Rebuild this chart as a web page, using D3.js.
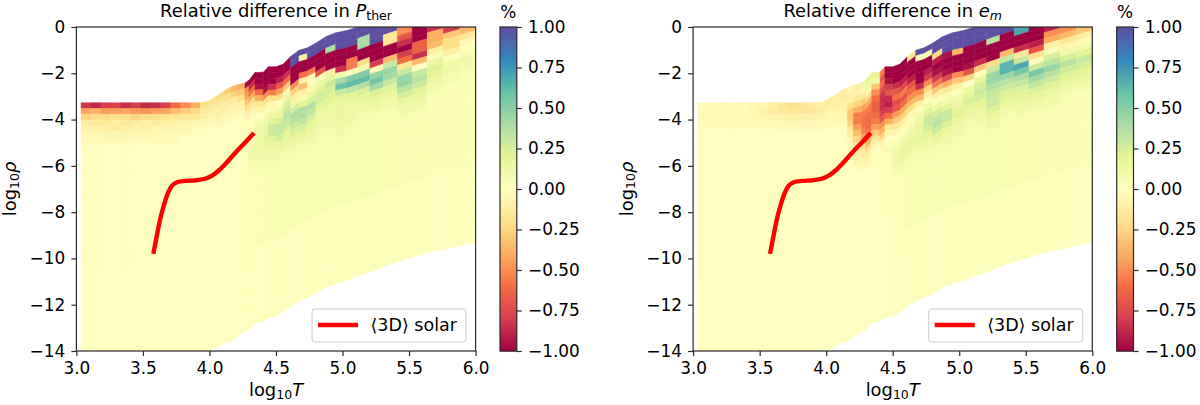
<!DOCTYPE html>
<html><head><meta charset="utf-8">
<script src="https://cdn.jsdelivr.net/npm/d3@7"></script>
<style>
html,body{margin:0;padding:0;background:#fff}
svg{display:block}
text{font-family:"DejaVu Sans",sans-serif;fill:#000}
</style></head><body>
<svg id="chart" width="1200" height="405"></svg>
<script>
// column edges in log10 T
const tEdges=[3.035,3.11,3.185,3.26,3.335,3.41,3.485,3.56,3.635,3.71,3.785,3.86,3.929,3.992,4.054,4.117,4.16,4.204,4.267,4.297,4.342,4.405,4.442,4.5,4.555,4.61,4.673,4.735,4.798,4.873,4.948,5.031,5.114,5.206,5.306,5.412,5.524,5.637,5.757,5.882,6.0];
// upper and lower limit of the table at each column edge, log10 rho
const topEdge=[-3.27,-3.27,-3.27,-3.27,-3.27,-3.27,-3.27,-3.27,-3.27,-3.27,-3.27,-3.27,-3.27,-3.2,-2.98,-2.72,-2.6,-2.5,-2.42,-2.3,-1.97,-1.95,-1.72,-1.72,-1.6,-1.28,-1.0,-0.9,-0.7,-0.42,-0.25,-0.15,0.0,0.2,0.4,0.6,0.8,1.0,1.2,1.4,1.6];
const bottomEdge=[-14.6,-14.6,-14.6,-14.6,-14.6,-14.6,-14.6,-14.6,-14.6,-14.6,-14.6,-14.6,-14.4,-14,-13.85,-13.65,-13.6,-13.4,-13.15,-13.1,-12.8,-12.7,-12.55,-12.5,-12.3,-12.1,-11.85,-11.7,-11.5,-11.25,-11.1,-10.95,-10.75,-10.6,-10.35,-10.15,-9.95,-9.75,-9.6,-9.45,-9.3];
const rowStep=0.25;
// percent difference by column, rows running down from the upper limit
const pRows=[
[-.82,-.42,-.25,-.12,-.08,-.05,-.03,-.02],
[-.88,-.38,-.2,-.14,-.08,-.04,-.03],
[-.8,-.45,-.22,-.14,-.1,-.05,-.03],
[-.78,-.44,-.18,-.1,-.12,-.05,-.03],
[-.86,-.42,-.2,-.15,-.1,-.06,-.03],
[-.8,-.46,-.24,-.12,-.08,-.05,-.02],
[-.88,-.48,-.2,-.1,-.1,-.05,-.03],
[-.85,-.44,-.2,-.12,-.06,-.04,-.02],
[-.78,-.42,-.18,-.1,-.06,-.03,-.02],
[-.62,-.34,-.16,-.08,-.05,-.03,-.02],
[-.5,-.28,-.14,-.08,-.05,-.02],
[-.4,-.22,-.14,-.06,-.03,-.02],
[-.2,-.14,-.1,-.05,-.02],
[-.18,-.12,-.08,-.05,-.02],
[-.22,-.15,-.1,-.1,-.05,-.03],
[-.28,-.2,-.12,-.1,-.05,-.03],
[-.35,-.25,-.12,-.08,-.05,-.02],
[-.4,-.3,-.2,-.1,-.05,-.02],
[-.95,-.5,-.45,-.3,-.2,-.1,-.05,0,.02,.02,.02,.04,.05],
[-1,-.85,-.6,-.4,-.2,-.1,-.05,0,.02,.04,.06,.08,.1,.12,.1,.08],
[-1,-1,-.95,-.6,-.4,-.15,-.08,0,.05,.1,.1,.12,.15,.14,.1,.1,.08,.06],
[-1,-1,-1,-.95,-.5,-.2,-.08,.02,.08,.14,.16,.2,.2,.15,.12,.1,.08,.06],
[-1,-1,-1,-.85,-.55,-.2,-.05,.05,.14,.22,.28,.28,.22,.16,.12,.1,.08],
[-1,-1,-.9,-.7,-.45,-.2,0,.08,.14,.24,.32,.3,.26,.18,.14,.1,.08],
[-1,-1,-.85,-.6,-.3,-.05,.12,.24,.3,.36,.32,.28,.2,.16,.14,.1,.08],
[1,1,-1,-1,-1,-.5,-.25,-.1,.12,.26,.38,.38,.3,.24,.18,.14,.1,.08],
[1,-.1,-1,-1,-.6,-.1,-.35,-.1,.06,.2,.38,.38,.34,.26,.2,.14,.1,.08],
[1,1,-1,-1,-.55,-.05,.02,.06,.14,.26,.38,.34,.26,.2,.14,.12,.1,.08],
[1,1,-1,-1,-1,-.7,.06,.14,.2,.26,.26,.2,.14,.12,.12,.1,.08],
[1,1,.4,-1,-1,-1,-.1,.18,.3,.26,.22,.2,.16,.14,.12,.1,.08],
[1,1,1,-1,-1,-1,-.85,.1,.42,.58,.3,.18,.14,.16,.16,.14,.12,.1,.08],
[1,1,1,-1,-1,-.55,-.55,.05,.52,.62,.34,.2,.16,.14,.12,.14,.1,.08],
[1,1,.4,.4,-1,-1,-.2,.1,.52,.62,.38,.24,.18,.14,.12,.1,.08],
[1,1,1,-1,-1,-1,-.8,-.05,.46,.56,.42,.24,.18,.14,.1,.08],
[1,-.15,-.15,-1,-1,-.35,.3,.45,.42,.32,.22,.16,.12,.1],
[-.5,-.7,-.85,-1,-.8,-.6,-.15,.3,.46,.46,.36,.26,.16,.12,.1],
[-1,-1,-.65,-.65,-.85,-.35,0,.3,.36,.3,.22,.16,.12,.1],
[-.85,-.4,-.4,-.35,-.1,.05,.16,.22,.2,.14,.1,.08],
[-.8,-.3,-.2,-.2,-.1,0,.1,.12,.1,.08],
[-.35,-.15,-.05,0,.05,.1,.1,.06,.05]
];
const eRows=[
[-.03,-.02,-.04,-.02,-.01],
[-.02,-.03,-.02,-.03,-.01],
[-.03,-.04,-.03,-.02,-.01],
[-.02,-.03,-.05,-.03,-.02],
[-.03,-.02,-.03,-.02,-.01],
[-.04,-.05,-.04,-.03,-.01],
[-.06,-.08,-.05,-.03,-.02],
[-.1,-.12,-.06,-.03,-.02],
[-.14,-.14,-.08,-.04,-.02],
[-.18,-.14,-.08,-.05,-.02],
[-.16,-.16,-.1,-.05,-.03],
[-.12,-.14,-.08,-.05,-.03],
[-.1,-.12,-.08,-.05,-.03],
[-.12,-.1,-.05,-.03,-.02],
[-.1,-.12,-.08,-.05,-.05,-.02],
[-.1,-.12,-.1,-.08,-.06,-.03],
[-.03,-.08,-.1,-.2,-.3,-.3,-.25,-.15,-.1,-.05,-.03],
[-.1,-.1,-.15,-.25,-.4,-.55,-.55,-.45,-.35,-.25,-.18,-.12,-.1,-.06,-.03],
[.12,.05,-.15,-.3,-.45,-.55,-.6,-.6,-.55,-.45,-.3,-.2,-.12,-.08,-.04],
[.2,.15,-.05,-.2,-.4,-.55,-.6,-.62,-.62,-.58,-.5,-.35,-.2,-.1,-.05,-.02],
[.2,.12,-.3,-.5,-.6,-.65,-.65,-.6,-.55,-.45,-.3,-.15,-.05,0],
[-.55,-.7,-.6,-.75,-.85,-.85,-.85,-.8,-.7,-.5,-.4,-.25,-.1,-.03,.02],
[-1,-1,-.95,-.8,-.7,-.85,-.9,-.8,-.6,-.4,-.15,-.05,0,.03,.05],
[-1,-1,-1,-.85,-.7,-.6,-.75,-.7,-.45,-.3,-.15,-.05,0,.04,.1,.12,.12,.1,.08],
[-1,-1,-1,-.9,-.75,-.55,-.7,-.6,-.4,-.25,-.1,-.02,.02,.08,.14,.18,.16,.12,.08],
[-.15,-1,-1,-1,-.9,-.7,-.6,-.5,-.35,-.2,-.05,.02,.06,.12,.16,.18,.14,.1,.08],
[1,.05,-1,-1,-1,-1,-.85,-.5,-.35,-.1,.02,.1,.14,.16,.16,.18,.14,.1,.08],
[1,.05,-1,-1,-.9,-.8,-.5,-.25,-.1,.03,.12,.2,.3,.3,.24,.2,.14,.1,.08],
[1,1,-.2,-.9,-1,-.95,-.8,-.55,-.3,-.1,.03,.12,.26,.32,.36,.28,.2,.14,.1,.08],
[1,1,1,-.95,-1,-1,-.95,-.75,-.4,-.15,.05,.1,.2,.3,.3,.24,.18,.12,.1,.08],
[1,1,1,-.35,-1,-1,-1,-.5,-.3,-.1,.05,.1,.14,.18,.2,.14,.12,.1,.08],
[1,1,1,-1,-1,-1,-.95,-.7,-.25,0,.12,.2,.24,.2,.16,.12,.1,.08],
[1,1,1,-1,-1,-1,-.85,-.3,.02,.18,.26,.28,.26,.2,.16,.12,.1],
[1,1,.35,-1,-1,-1,-.2,.3,.45,.45,.38,.32,.3,.28,.22,.16,.12,.1],
[1,-1,-1,-1,-.35,.3,.65,.65,.45,.36,.28,.22,.2,.14,.1],
[.7,-1,-1,-.85,-.15,.3,.7,.55,.38,.32,.24,.2,.16,.12,.1],
[-1,-1,-.9,-.7,-.2,.05,.3,.55,.42,.32,.24,.18,.14,.1],
[-.9,-.5,-.4,-.1,.05,.25,.35,.45,.36,.28,.22,.16,.12,.1],
[-.5,-.35,-.15,-.05,.1,.25,.36,.28,.22,.16,.12,.08],
[-.3,-.1,-.02,.1,.2,.3,.26,.2,.16,.12,.08]
];
// value under the listed rows, then near the lower limit
const pDeep=[-.005,-.01,-.005,0,-.01,-.005,0,-.005,-.005,0,0,-.005,0,0,0,.005,.01,.015,.02,.03,.04,.05,.06,.06,.07,.07,.07,.07,.07,.07,.07,.07,.07,.07,.06,.06,.06,.05,.05,.04];
const pFloor=[0,-.005,0,0,-.005,0,0,0,0,0,0,0,0,0,.005,.005,.01,.01,.01,.01,.01,.015,.015,.02,.02,.02,.02,.02,.02,.02,.025,.025,.03,.03,.03,.03,.025,.02,.02,.02];
const eDeep=[-.005,0,-.005,-.005,0,-.005,-.005,-.005,0,-.005,-.005,0,-.005,0,0,-.005,0,0,0,0,.01,.01,.02,.03,.05,.06,.07,.07,.07,.07,.07,.07,.07,.07,.06,.06,.06,.05,.05,.04];
const eFloor=[0,0,0,0,0,0,0,0,0,0,0,0,0,0,0,0,0,0,.005,.005,.01,.01,.015,.02,.02,.02,.02,.02,.02,.02,.025,.025,.03,.03,.03,.03,.025,.02,.02,.02];
const floorFromRow=30;
// mean 3D solar stratification
const solarT=[3.578,3.6,3.63,3.66,3.69,3.72,3.76,3.82,3.9,3.97,4.02,4.07,4.13,4.2,4.27,4.335];
const solarRho=[-9.8,-9.15,-8.3,-7.65,-7.15,-6.85,-6.7,-6.65,-6.62,-6.55,-6.42,-6.2,-5.85,-5.4,-4.98,-4.58];
// axis ticks
const xTicks=[3,3.5,4,4.5,5,5.5,6];
const yTicks=[0,-2,-4,-6,-8,-10,-12,-14];
const barTicks=[1,.75,.5,.25,0,-.25,-.5,-.75,-1];
const spectral=["#9e0142","#d53e4f","#f46d43","#fdae61","#fee08b","#ffffbf","#e6f598","#abdda4","#66c2a5","#3288bd","#5e4fa2"];

const color=d3.scaleLinear().domain(d3.range(11).map(i=>-1+i*.2)).range(spectral).clamp(true);
const svg=d3.select("#chart");
const fs=16.9,big=17.9,sub=12.5,ink="#2a2a2a";
const minus=s=>s.replace("-","\u2212");

function drawPanel(o){
  const g=svg.append("g");
  const x=d3.scaleLinear().domain([3,6]).range([o.left,o.left+399.2]);
  const y=d3.scaleLinear().domain([-14,0]).range([351,27]);
  const id="clip"+Math.round(o.left);
  g.append("clipPath").attr("id",id).append("rect").attr("x",x(3)).attr("y",y(0)).attr("width",x(6)-x(3)).attr("height",y(-14)-y(0));
  const cells=[];
  o.rows.forEach((list,c)=>{
    const maxDepth=d3.max([topEdge[c]-bottomEdge[c],topEdge[c+1]-bottomEdge[c+1]]);
    const n=Math.ceil(maxDepth/rowStep);
    const mid=(topEdge[c]+topEdge[c+1])/2;
    const skip=Math.round(Math.max(0,mid)/rowStep);
    for(let k=0;k<n;k++){
      const idx=k-skip;
      const v=idx<0?list[0]:idx<list.length?list[idx]:(k<floorFromRow?o.deep[c]:o.floor[c]);
      const at=(i,d)=>Math.max(topEdge[i]-d*rowStep,bottomEdge[i]);
      const p=[[tEdges[c],at(c,k)],[tEdges[c+1],at(c+1,k)],[tEdges[c+1],at(c+1,k+1)],[tEdges[c],at(c,k+1)]];
      if(p[0][1]===p[3][1]&&p[1][1]===p[2][1])continue;
      cells.push({p,v});
    }
  });
  const poly=d3.line().x(d=>x(d[0])).y(d=>y(d[1]));
  g.append("g").attr("clip-path",`url(#${id})`).selectAll("path").data(cells).join("path")
    .attr("d",d=>poly(d.p)+"Z").attr("fill",d=>color(d.v)).attr("stroke",d=>color(d.v)).attr("stroke-width",.5);
  const curve=d3.line().x(d=>x(d[0])).y(d=>y(d[1])).curve(d3.curveCatmullRom);
  g.append("path").attr("d",curve(solarT.map((t,i)=>[t,solarRho[i]]))).attr("fill","none").attr("stroke","#ff0000").attr("stroke-width",4.4);
  // frame and axes
  g.append("rect").attr("x",x(3)).attr("y",y(0)).attr("width",x(6)-x(3)).attr("height",y(-14)-y(0)).attr("fill","none").attr("stroke",ink).attr("stroke-width",1.2);
  const ax=g.append("g").attr("transform",`translate(0,${y(-14)})`).call(d3.axisBottom(x).tickValues(xTicks).tickFormat(d3.format(".1f")).tickSize(5).tickPadding(6.2));
  const ay=g.append("g").attr("transform",`translate(${x(3)},0)`).call(d3.axisLeft(y).tickValues(yTicks).tickFormat(d=>minus(String(d))).tickSize(5).tickPadding(6.2));
  [ax,ay].forEach(a=>{a.select(".domain").remove();a.selectAll("line").attr("stroke",ink).attr("stroke-width",1.2);a.selectAll("text").attr("font-size",fs).style("font-family",'"DejaVu Sans"').attr("fill","#000");});
  // labels
  const xl=g.append("text").attr("x",(x(3)+x(6))/2).attr("y",396).attr("text-anchor","middle").attr("font-size",big);
  xl.append("tspan").text("log");
  xl.append("tspan").text("10").attr("font-size",sub).attr("dy",2.7);
  xl.append("tspan").text("T").attr("font-style","italic").attr("dy",-2.7);
  const yl=g.append("text").attr("transform",`translate(${o.left-60.4},${(y(0)+y(-14))/2}) rotate(-90)`).attr("text-anchor","middle").attr("font-size",big);
  yl.append("tspan").text("log");
  yl.append("tspan").text("10").attr("font-size",sub).attr("dy",2.7);
  yl.append("tspan").text("\u03c1").attr("font-style","italic").attr("dy",-2.7);
  const ti=g.append("text").attr("x",(x(3)+x(6))/2).attr("y",17).attr("text-anchor","middle").attr("font-size",big);
  ti.append("tspan").text("Relative difference in ");
  ti.append("tspan").text(o.sym).attr("font-style","italic");
  ti.append("tspan").text(o.sub).attr("font-size",sub).attr("dy",2.7).attr("font-style",o.subItalic?"italic":"normal");
  // legend
  const lx=o.left+235.6,ly=309;
  g.append("rect").attr("x",lx).attr("y",ly).attr("width",154).attr("height",33).attr("rx",3).attr("fill","#fff").attr("fill-opacity",.8).attr("stroke","#ccc").attr("stroke-width",1);
  g.append("line").attr("x1",lx+6).attr("x2",lx+46).attr("y1",ly+16).attr("y2",ly+16).attr("stroke","#ff0000").attr("stroke-width",4.4);
  g.append("text").attr("x",lx+58.5).attr("y",ly+22).attr("font-size",17.5).text("\u27e83D\u27e9 solar");
  // colour bar
  const b=d3.scaleLinear().domain([-1,1]).range([351,27]);
  const steps=d3.range(0,1,1/162).map(t=>-1+2*t);
  g.append("g").selectAll("rect").data(steps).join("rect")
    .attr("x",o.bar).attr("width",16.8).attr("y",d=>b(d+2/162)).attr("height",d=>b(d)-b(d+2/162)+.5).attr("fill",d=>color(d+1/162));
  g.append("rect").attr("x",o.bar).attr("y",27).attr("width",16.8).attr("height",324).attr("fill","none").attr("stroke",ink).attr("stroke-width",1.2);
  const ab=g.append("g").attr("transform",`translate(${o.bar+16.8},0)`).call(d3.axisRight(b).tickValues(barTicks).tickFormat(d=>minus(d3.format(".2f")(d))).tickSize(5).tickPadding(6.2));
  ab.select(".domain").remove();
  ab.selectAll("line").attr("stroke",ink).attr("stroke-width",1.2);
  ab.selectAll("text").attr("font-size",fs).style("font-family",'"DejaVu Sans"').attr("fill","#000");
  g.append("text").attr("x",o.bar+8.4).attr("y",18).attr("text-anchor","middle").attr("font-size",fs).text("%");
}
drawPanel({left:76.4,bar:500,rows:pRows,deep:pDeep,floor:pFloor,sym:"P",sub:"ther",subItalic:false});
drawPanel({left:693.1,bar:1116.7,rows:eRows,deep:eDeep,floor:eFloor,sym:"e",sub:"m",subItalic:true});
</script></body></html>
